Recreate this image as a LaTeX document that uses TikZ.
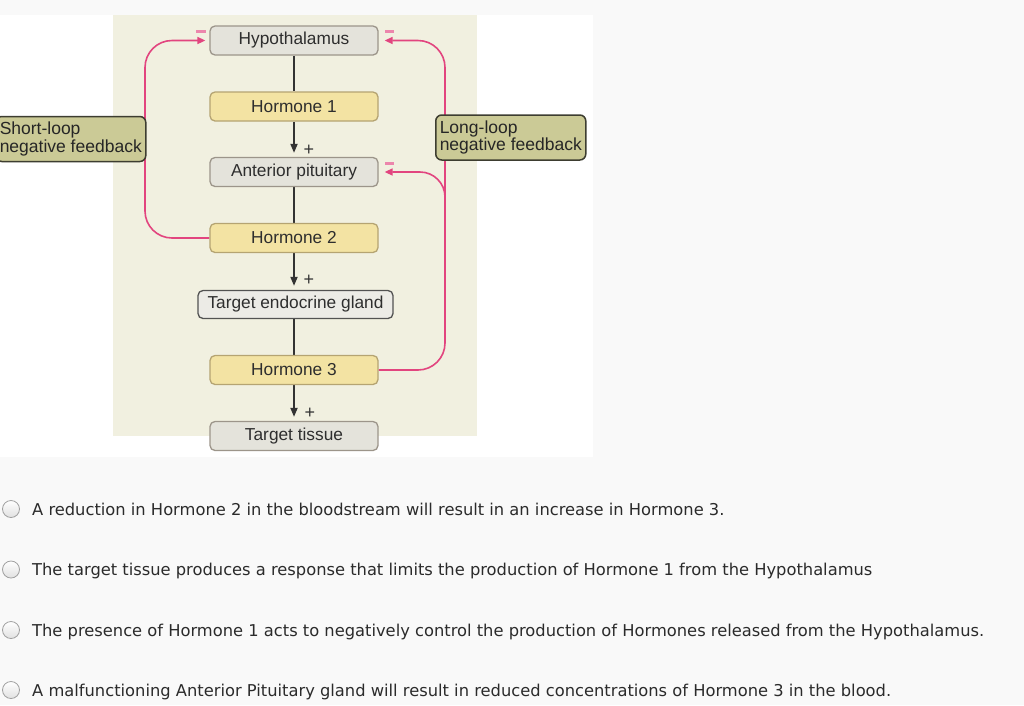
\documentclass[tikz,border=0pt]{standalone}
\usepackage{fontspec}
\setmainfont{Liberation Sans}
\newfontfamily\ansfont{DejaVu Sans}
\usetikzlibrary{arrows.meta}
\definecolor{pagebg}{HTML}{F9F9F9}
\definecolor{panel}{HTML}{F1F0E0}
\definecolor{graybox}{HTML}{E4E3DB}
\definecolor{grayline}{HTML}{9C958A}
\definecolor{yelbox}{HTML}{F3E3A3}
\definecolor{yelline}{HTML}{B5A472}
\definecolor{olivebox}{HTML}{CBCA96}
\definecolor{oliveline}{HTML}{3D3D30}
\definecolor{pinkc}{HTML}{E2457F}
\definecolor{darkc}{HTML}{333333}
\definecolor{txtc}{HTML}{2E2E2E}
\definecolor{anstxt}{HTML}{2B2B2B}
\definecolor{radioline}{HTML}{A0A0A0}
\pgfdeclarelayer{back}
\pgfdeclarelayer{mid}
\pgfsetlayers{back,mid,main}
\tikzset{
  stagebox/.style={draw=grayline, fill=graybox, line width=1.3pt, rounded corners=5pt,
    minimum width=168pt, minimum height=29pt, inner sep=0pt, text=txtc,
    font=\fontsize{17.3}{19}\selectfont},
  hormbox/.style={stagebox, draw=yelline, fill=yelbox},
  glandbox/.style={stagebox, draw=darkc!85, fill=graybox!70!white, minimum width=195pt, minimum height=28pt},
  loopbox/.style={draw=oliveline, fill=olivebox, line width=1.5pt, rounded corners=6pt,
    align=left, inner xsep=4pt, inner ysep=4pt, text=black!85,
    font=\fontsize{17.5}{14}\selectfont, minimum height=45pt},
  blkline/.style={draw=darkc, line width=1.8pt},
  blkarrow/.style={blkline, -{Triangle[length=9pt,width=7pt]}, shorten >=4pt},
  pinkline/.style={draw=pinkc, line width=1.6pt, rounded corners=27pt},
  pinkarrow/.style={pinkline, -{Triangle[length=8pt,width=7pt]}},
  minussign/.style={fill=pinkc!65},
  plussign/.style={text=darkc, font=\fontsize{18}{18}\selectfont, inner sep=0pt},
  radio/.style={circle, draw=radioline, top color=white, bottom color=black!12, line width=0.8pt, minimum size=17pt, inner sep=0pt},
  answer/.style={anchor=base west, inner sep=0pt, text=anstxt, font=\ansfont\fontsize{16.3}{18}\selectfont}
}
\begin{document}
\begin{tikzpicture}[x=1pt,y=-1pt]
\useasboundingbox (0,0) rectangle (1024,705);
\begin{pgfonlayer}{back}
\fill[pagebg] (0,0) rectangle (1024,705);
\fill[white] (0,15) rectangle (593,457);
\fill[panel] (113,15) rectangle (477,436);
\end{pgfonlayer}

% stages
\node[stagebox] (hyp) at (294,40.5) {Hypothalamus};
\node[hormbox] (h1) at (294,106.5) {Hormone 1};
\node[stagebox] (ap) at (294,172) {Anterior pituitary};
\node[hormbox] (h2) at (294,238) {Hormone 2};
\node[glandbox] (teg) at (295.5,304.5) {Target endocrine gland};
\node[hormbox] (h3) at (294,370) {Hormone 3};
\node[stagebox] (tt) at (294,436) {Target tissue};

% loop labels
\node[loopbox, anchor=west] (sl) at (-5,139) {Short-loop\\negative feedback};
\node[loopbox, anchor=west] (ll) at (435,137.5) {Long-loop\\negative feedback};

% coordinates of the loop rails
\coordinate (sx) at (145,0);
\coordinate (lx) at (445,0);
\coordinate (lb) at (445,230);

\begin{pgfonlayer}{mid}
% black pathway
\draw[blkline] (hyp.south) -- (h1.north);
\draw[blkarrow] (h1.south) -- (ap.north);
\draw[blkline] (ap.south) -- (h2.north);
\draw[blkarrow] (h2.south) -- (h2.south |- teg.north);
\draw[blkline] (h3.north |- teg.south) -- (h3.north);
\draw[blkarrow] (h3.south) -- (tt.north);
% short loop
\draw[pinkarrow, shorten >=4pt] (h2.west) -- (h2.west -| sx) -- (hyp.west -| sx) -- (hyp.west);
% long loop
\draw[pinkarrow, shorten >=6pt] (h3.east) -- (h3.east -| lx) -- (hyp.east -| lx) -- (hyp.east);
\draw[pinkarrow, shorten >=6pt, rounded corners=25pt] (lb) -- (ap.east -| lx) -- (ap.east);
\end{pgfonlayer}

% plus signs
\node[plussign] (p1) at (309,150) {+};
\node[plussign] (p2) at (309,280) {+};
\node[plussign] (p3) at (310,413) {+};

% minus signs
\fill[minussign] (196,30) rectangle (206,32.5);
\fill[minussign] (385,30) rectangle (394,32.5);
\fill[minussign] (385,162) rectangle (394,164.5);

% answers
\node[radio] (r1) at (11,509) {};
\node[radio] (r2) at (11,569.5) {};
\node[radio] (r3) at (11,630) {};
\node[radio] (r4) at (11,690) {};
\node[answer] (a1) at (32,515) {A reduction in Hormone 2 in the bloodstream will result in an increase in Hormone 3.};
\node[answer] (a2) at (32,575.5) {The target tissue produces a response that limits the production of Hormone 1 from the Hypothalamus};
\node[answer] (a3) at (32,636) {The presence of Hormone 1 acts to negatively control the production of Hormones released from the Hypothalamus.};
\node[answer] (a4) at (32,696.5) {A malfunctioning Anterior Pituitary gland will result in reduced concentrations of Hormone 3 in the blood.};
\end{tikzpicture}
\end{document}
